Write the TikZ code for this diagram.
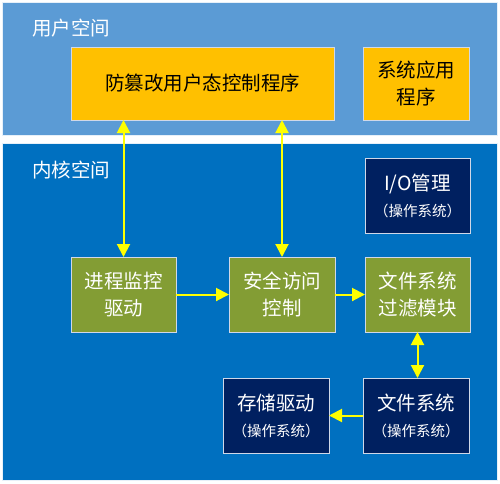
\documentclass[tikz,border=0pt]{standalone}
\usepackage{fontspec}
\setmainfont{Noto Sans CJK SC}
\usetikzlibrary{arrows.meta}
\definecolor{userblue}{HTML}{5B9BD5}
\definecolor{kernblue}{HTML}{0070C0}
\definecolor{orangebox}{HTML}{FFC000}
\definecolor{navybox}{HTML}{002060}
\definecolor{greenbox}{HTML}{839D34}
\definecolor{boxline}{HTML}{D0D8E8}
\definecolor{arrowyellow}{HTML}{FFFF00}
\begin{document}
\begin{tikzpicture}[x=1pt,y=-1pt,
  region/.style={rectangle, draw=white!85!userblue, line width=0.8pt, inner sep=0pt, outer sep=0pt, anchor=north west},
  box/.style={rectangle, draw=boxline, line width=1pt, inner sep=0pt, outer sep=0pt, align=center,
    font=\fontsize{19.5}{27}\selectfont},
  orangestyle/.style={box, fill=orangebox, text=black},
  navystyle/.style={box, fill=navybox, text=white},
  greenstyle/.style={box, fill=greenbox, text=white},
  lbl/.style={anchor=west, text=white, inner sep=0pt, font=\fontsize{19.5}{22}\selectfont},
  tipstyle/.tip={Triangle[length=13pt,width=13pt]},
  arr/.style={draw=arrowyellow, line width=2pt, -tipstyle},
  darr/.style={draw=arrowyellow, line width=2pt, tipstyle-tipstyle}
]
\newcommand{\ossub}{{\fontsize{14.5}{16}\selectfont （操作系统）}}
\useasboundingbox (0,0) rectangle (500,483);
\node[region, fill=userblue, minimum width=495pt, minimum height=133pt] (user) at (2,2) {};
\node[region, fill=kernblue, minimum width=495pt, minimum height=337pt] (kern) at (2,143) {};
\node[lbl] (userlbl) at (32,28) {用户空间};
\node[lbl] (kernlbl) at (32,170) {内核空间};

\node[orangestyle, minimum width=263pt, minimum height=73pt] (prog) at (202.5,83.5) {防篡改用户态控制程序};
\node[orangestyle, minimum width=106pt, minimum height=73pt] (sysapp) at (416,83.5) {系统应用\\程序};

\node[navystyle, minimum width=105pt, minimum height=75pt] (io) at (417.5,195.5) {I/O管理\\[-1pt]\ossub};

\node[greenstyle, minimum width=105pt, minimum height=75pt] (proc) at (123.5,294.5) {进程监控\\驱动};
\node[greenstyle, minimum width=106pt, minimum height=75pt] (sec) at (282,294.5) {安全访问\\控制};
\node[greenstyle, minimum width=105pt, minimum height=75pt] (filt) at (417.5,294.5) {文件系统\\过滤模块};

\node[navystyle, minimum width=106pt, minimum height=75pt] (stor) at (276,415.5) {存储驱动\\[-1pt]\ossub};
\node[navystyle, minimum width=106pt, minimum height=75pt] (fs) at (416,415.5) {文件系统\\[-1pt]\ossub};

\draw[darr] (proc.north) -- (proc.north |- prog.south);
\draw[darr] (sec.north) -- (sec.north |- prog.south);
\draw[arr] (proc.east) -- (sec.west);
\draw[arr] (sec.east) -- (filt.west);
\draw[darr] (filt.south) -- (filt.south |- fs.north);
\draw[arr] (fs.west) -- (stor.east);
\end{tikzpicture}
\end{document}
